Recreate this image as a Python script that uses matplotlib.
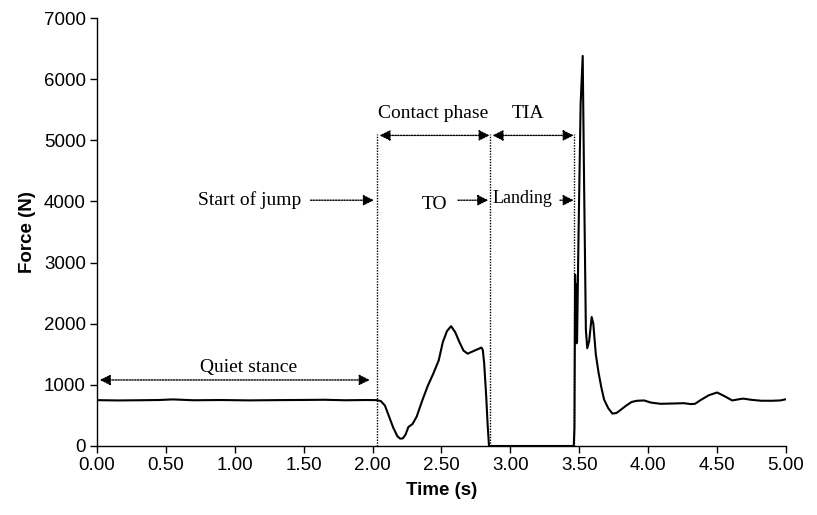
import numpy as np
import matplotlib
matplotlib.use("Agg")
import matplotlib.pyplot as plt

# ground reaction force during a jump
time_s = [0.00, 0.15, 0.30, 0.45, 0.55, 0.70, 0.90, 1.10, 1.30, 1.50, 1.65, 1.80, 1.95, 2.03,
          2.06, 2.09, 2.12, 2.15, 2.18, 2.20, 2.22, 2.24, 2.26, 2.29, 2.32, 2.36, 2.40, 2.44,
          2.48, 2.51, 2.54, 2.57, 2.60, 2.63, 2.66, 2.69, 2.72, 2.76, 2.79, 2.80, 2.81, 2.825,
          2.835, 2.845, 3.460, 3.465, 3.470, 3.474, 3.477, 3.480, 3.484, 3.495, 3.51, 3.525,
          3.535, 3.548, 3.558, 3.572, 3.59, 3.602, 3.62, 3.64, 3.66, 3.68, 3.71, 3.74, 3.77,
          3.80, 3.84, 3.88, 3.92, 3.97, 4.02, 4.09, 4.18, 4.26, 4.31, 4.34, 4.38, 4.44, 4.50,
          4.55, 4.61, 4.66, 4.69, 4.75, 4.82, 4.90, 4.96, 5.00]
force_n = [750, 745, 748, 752, 762, 748, 752, 746, 750, 753, 756, 748, 752, 750,
           735, 660, 480, 300, 160, 120, 125, 190, 310, 360, 480, 740, 980, 1180,
           1400, 1700, 1880, 1960, 1860, 1700, 1560, 1510, 1540, 1580, 1610, 1570, 1350, 800,
           350, 0, 0, 300, 2800, 1750, 2650, 1680, 1700, 3500, 5600, 6380,
           4300, 1900, 1600, 1720, 2110, 2000, 1500, 1200, 960, 760, 620, 530, 540,
           590, 660, 720, 740, 745, 710, 690, 695, 700, 685, 690, 750, 830, 875,
           820, 745, 765, 775, 755, 740, 740, 745, 765]

phase_times = [2.03, 2.85, 3.465]
x_ticks = [0.0, 0.5, 1.0, 1.5, 2.0, 2.5, 3.0, 3.5, 4.0, 4.5, 5.0]
y_ticks = [0, 1000, 2000, 3000, 4000, 5000, 6000, 7000]

fig = plt.figure(figsize=(8.17, 5.15), dpi=100)
ax = fig.add_axes([0.1187, 0.134, 0.8433, 0.831])

ax.plot(time_s, force_n, color="black", lw=1.5, zorder=3)

for t in phase_times:
    ax.plot([t, t], [0, 5100], color="black", lw=1, ls=(0, (1, 1)))

serif = "Liberation Serif"


def arrow(x0, x1, y, both=False):
    style = "<|-|>" if both else "-|>"
    ax.annotate("", xy=(x1, y), xytext=(x0, y),
                arrowprops=dict(arrowstyle=style, ls=(0, (1, 1)), lw=1, color="black",
                                mutation_scale=16, shrinkA=0, shrinkB=0))


# annotations
ax.text(0.75, 1150, "Quiet stance", family=serif, fontsize=14, ha="left", va="bottom")
arrow(0.02, 1.98, 1080, both=True)

ax.text(1.48, 4020, "Start of jump", family=serif, fontsize=14, ha="right", va="center")
arrow(1.55, 2.01, 4020)

ax.text(2.44, 5300, "Contact phase", family=serif, fontsize=14, ha="center", va="bottom")
arrow(2.05, 2.85, 5080, both=True)

ax.text(3.13, 5300, "TIA", family=serif, fontsize=14, ha="center", va="bottom")
arrow(2.87, 3.46, 5080, both=True)

ax.text(2.45, 3950, "TO", family=serif, fontsize=14, ha="center", va="center")
arrow(2.62, 2.84, 4020)

ax.text(2.87, 4050, "Landing", family=serif, fontsize=13, ha="left", va="center")
arrow(3.36, 3.46, 4020)

ax.set_xlim(0, 5)
ax.set_ylim(0, 7000)
ax.set_xticks(x_ticks)
ax.set_xticklabels(["%.2f" % v for v in x_ticks])
ax.set_yticks(y_ticks)
ax.set_yticklabels([str(v) for v in y_ticks])
ax.tick_params(direction="out", length=5, width=1, labelsize=13.5, pad=3)
for lab in ax.get_xticklabels() + ax.get_yticklabels():
    lab.set_family("Liberation Sans")

ax.spines["top"].set_visible(False)
ax.spines["right"].set_visible(False)
ax.spines["left"].set_linewidth(1)
ax.spines["bottom"].set_linewidth(1)

ax.set_xlabel("Time (s)", family="Liberation Sans", fontweight="bold", fontsize=13.5, labelpad=6)
ax.set_ylabel("Force (N)", family="Liberation Sans", fontweight="bold", fontsize=13.5, labelpad=6)

fig.savefig("out.png", dpi=100)
